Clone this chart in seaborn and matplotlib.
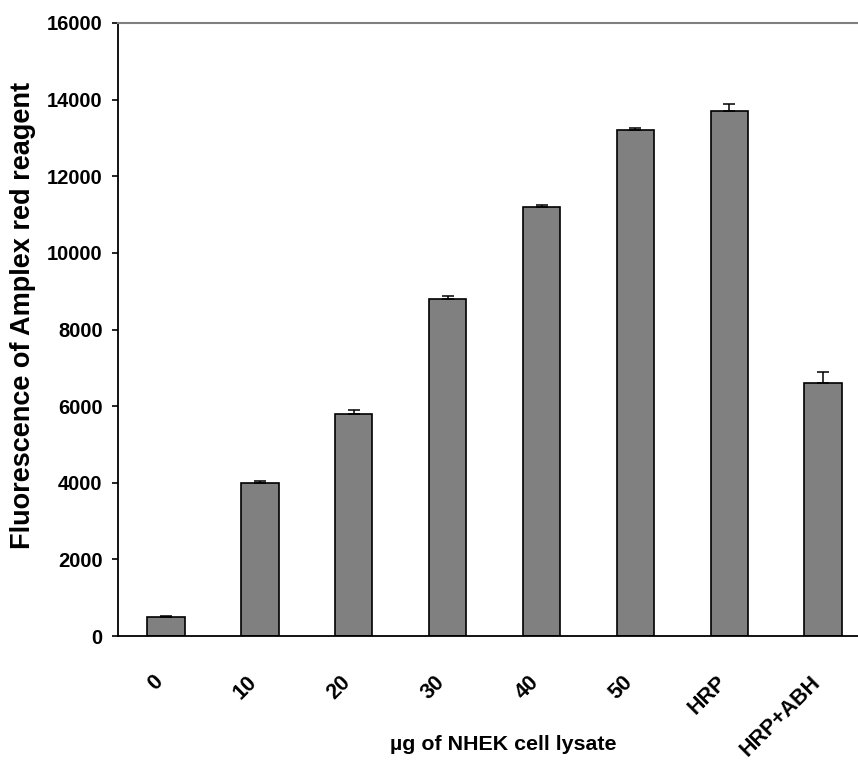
import matplotlib
matplotlib.use("Agg")
import matplotlib.pyplot as plt
import matplotlib.transforms as mtransforms
import seaborn as sns
import pandas as pd
import numpy as np

categories = ["0", "10", "20", "30", "40", "50", "HRP", "HRP+ABH"]
values = [500, 4000, 5800, 8800, 11200, 13200, 13700, 6600]
errors = [20, 40, 110, 80, 40, 50, 190, 290]
yticks = [0, 2000, 4000, 6000, 8000, 10000, 12000, 14000, 16000]

sns.set_theme(style="white")
plt.rcParams['font.family'] = ['Liberation Sans', 'DejaVu Sans']
plt.rcParams['font.weight'] = 'bold'
plt.rcParams['text.color'] = 'black'
plt.rcParams['axes.labelcolor'] = 'black'
plt.rcParams['xtick.color'] = 'black'
plt.rcParams['ytick.color'] = 'black'

df = pd.DataFrame({"cat": categories, "val": values})

fig = plt.figure(figsize=(8.58, 7.68), dpi=100)
ax = fig.add_axes([118/858, 1-636/768, 1-118/858, (636-23)/768])

sns.barplot(data=df, x="cat", y="val", order=categories, color="#808080",
            saturation=1, width=0.4, edgecolor="black", linewidth=1.2,
            errorbar=None, ax=ax)
x = np.arange(len(categories))
ax.errorbar(x, values, yerr=[np.zeros(len(errors)), errors], fmt="none",
            ecolor="black", elinewidth=1.1, capsize=4, capthick=1.1, zorder=1)

ax.set_xlim(-0.51, 7.37)
ax.set_ylim(0, 16000)
ax.set_yticks(yticks)
ax.set_yticklabels([str(v) for v in yticks], fontsize=14.5, fontweight='bold', color='black')
ax.set_xticks(x)
ax.set_xticklabels(categories, rotation=45, ha='right', va='center', rotation_mode='anchor',
                   fontsize=15.5, fontweight='bold', color='black')
ax.tick_params(axis='x', length=0, pad=31)
ax.tick_params(axis='y', direction='out', length=4, width=1.2, color='black', pad=7, left=True)
offset = mtransforms.ScaledTranslation(-6/100, 0, fig.dpi_scale_trans)
for lbl in ax.get_xticklabels():
    lbl.set_transform(lbl.get_transform() + offset)

for s in ['left', 'bottom']:
    ax.spines[s].set_color('black')
    ax.spines[s].set_linewidth(1.3)
ax.spines['top'].set_color('#808080')
ax.spines['top'].set_linewidth(1.5)
ax.spines['right'].set_visible(False)

ax.set_xlabel("")
ax.set_ylabel("")
fig.text(503/858, 1-745/768, "µg of NHEK cell lysate", ha='center', va='center',
         fontsize=15.4, fontweight='bold', color='black')
fig.text(23/858, 1-315/768, "Fluorescence of Amplex red reagent", ha='center', va='center',
         rotation=90, fontsize=19.5, fontweight='bold', color='black')

fig.savefig("out.png", dpi=100)
